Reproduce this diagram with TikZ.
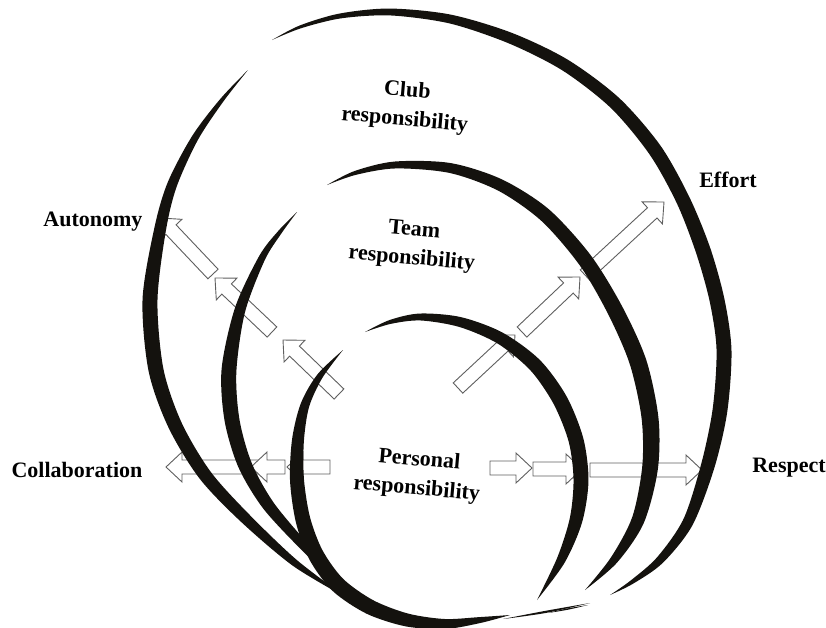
\documentclass[tikz,border=0pt]{standalone}
\usepackage{fontspec}
\setmainfont{Liberation Serif}
\usetikzlibrary{calc}
\definecolor{inkblack}{RGB}{20,18,14}
\definecolor{arrowgray}{RGB}{95,95,95}
\tikzset{
  lbl/.style={font=\fontsize{22}{29}\selectfont\bfseries, align=center, inner sep=0pt},
  blk/.style={fill=inkblack, draw=none},
  barrow/.style={draw=arrowgray, fill=white, line width=0.9pt, line join=miter},
}
% hollow block arrow from tail #1 to tip #2
\newcommand\blockarrow[2]{%
  \coordinate (bab) at ($(#2)!16pt!(#1)$);
  \draw[barrow] ($(#1)!7pt!90:(#2)$) -- ($(bab)!7pt!-90:(#1)$) -- ($(bab)!15pt!-90:(#1)$)
     -- (#2) -- ($(bab)!15pt!90:(#1)$) -- ($(bab)!7pt!90:(#1)$) -- ($(#1)!7pt!-90:(#2)$) -- cycle;
}
% tapered brush stroke: #1 centre coordinate, #2 list x/y/halfwidth
\newcommand\brushstroke[2]{%
  \gdef\outerlist{}\gdef\innerlist{}%
  \foreach \px/\py/\pw in {#2} {%
     \xdef\outerlist{\outerlist ($(\px,\py)!-\pw pt!(#1)$)}%
     \xdef\innerlist{($(\px,\py)!\pw pt!(#1)$) \innerlist}%
  }%
  \xdef\brushcmd{\noexpand\fill[blk] plot[smooth] coordinates {\outerlist} -- plot[smooth] coordinates {\innerlist} -- cycle;}%
  \brushcmd
}
\begin{document}
\begin{tikzpicture}[x=1pt,y=-1pt]
\useasboundingbox (0,0) rectangle (826,627);

% ---------- arrow end points ----------
\coordinate (a1t) at (339,394); \coordinate (a1h) at (283,340);
\coordinate (a2t) at (272,332); \coordinate (a2h) at (215,278);
\coordinate (a3t) at (213,274); \coordinate (a3h) at (160,218);
\coordinate (e1t) at (458,388); \coordinate (e1h) at (515,335);
\coordinate (e2t) at (522,332); \coordinate (e2h) at (580,277);
\coordinate (e3t) at (585,275); \coordinate (e3h) at (664,202);
\coordinate (c1t) at (330,467); \coordinate (c1h) at (287,467);
\coordinate (c3t) at (262,467); \coordinate (c3h) at (166,467);
\coordinate (c2t) at (285,467); \coordinate (c2h) at (251,467);
\coordinate (r1t) at (490,468); \coordinate (r1h) at (532,468);
\coordinate (r2t) at (533,469); \coordinate (r2h) at (582,469);
\coordinate (r3t) at (590,470); \coordinate (r3h) at (702,470);

\blockarrow{a1t}{a1h}
\blockarrow{a2t}{a2h}
\blockarrow{a3t}{a3h}
\blockarrow{e1t}{e1h}
\blockarrow{e3t}{e3h}
\blockarrow{e2t}{e2h}
\blockarrow{c1t}{c1h}
\blockarrow{c3t}{c3h}
\blockarrow{c2t}{c2h}
\blockarrow{r1t}{r1h}
\blockarrow{r2t}{r2h}
\blockarrow{r3t}{r3h}

% ---------- ring centres ----------
\coordinate (cclub) at (440,330);
\coordinate (cteam) at (440,410);
\coordinate (cpers) at (440,470);

% club ring
\brushstroke{cclub}{272/40/0, 300/27/1.5, 340/16/2.5, 390/12/3.5, 450/19/4.5, 510/38/5.5, 565/65/6, 615/103/6.5, 655/150/7, 683/200/7, 703/250/7.5, 717/300/7.5, 724/350/7.5, 720/410/7.5, 708/465/7, 688/522/5.5, 660/560/4, 632/582/2, 610/595/0}
\brushstroke{cclub}{248/70/0, 222/100/2, 195/138/3.5, 172/185/5, 160/230/6, 150/300/7.5, 156/370/7.5, 175/425/7, 205/475/6.5, 245/518/5.5, 295/563/3.5, 347/598/0}
% team ring
\brushstroke{cteam}{327/185/0, 355/173/2, 395/165/3.5, 450/168/5, 500/185/6, 545/215/7, 585/260/7.5, 615/310/8, 638/362/8.5, 650/418/8.5, 650/468/8, 638/520/6.5, 614/560/4, 585/590/0}
\brushstroke{cteam}{297/212/0, 280/232/2, 262/258/3.5, 240/310/5.5, 229/370/7.5, 232/420/7.5, 245/465/7, 268/505/6, 303/545/4.5, 338/580/3, 370/607/0}
% personal ring
\brushstroke{cpers}{365/332/0, 390/322/2, 420/317/3.5, 460/322/5, 500/338/6, 535/365/7, 560/400/7.5, 576/440/7.5, 581/480/7.5, 576/520/6.5, 561/560/4.5, 537/600/0}
\brushstroke{cpers}{343/350/0, 320/376/3, 305/405/4.5, 298/440/6, 297/480/7, 303/520/7.5, 316/555/8, 338/585/8, 370/607/7.5, 407/620/6.5, 445/624/5, 480/620/3, 510/615/0}
% thin tails at the bottom
\brushstroke{cpers}{503/619/0, 545/612/1.2, 590/603/0}
\brushstroke{cpers}{548/613/0, 568/609/0.8, 588/605/0}

% ---------- labels ----------
\node[lbl, rotate=-5] (club) at (406,106) {Club\\responsibility};
\node[lbl, rotate=-5] (team) at (413,245) {Team\\responsibility};
\node[lbl, rotate=-5] (pers) at (418,475) {Personal\\responsibility};
\node[lbl] (effort) at (728,180) {Effort};
\node[lbl] (respect) at (789,468) {Respect};
\node[lbl] (collab) at (77,470) {Collaboration};
\node[lbl] (auton) at (93,222) {Autonomy};
\end{tikzpicture}
\end{document}
